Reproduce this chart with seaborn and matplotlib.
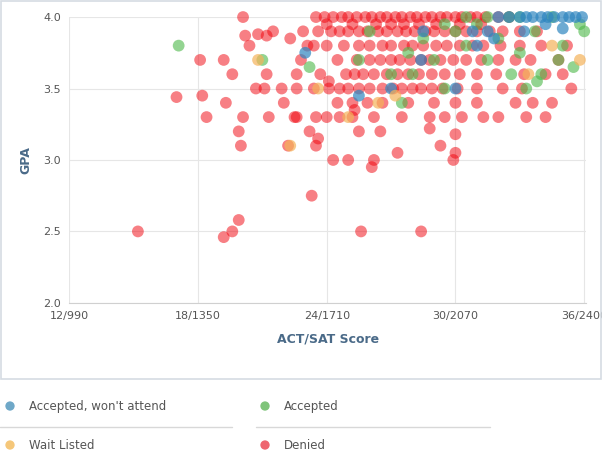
import numpy as np
import pandas as pd
import seaborn as sns
import matplotlib.pyplot as plt
from matplotlib.patches import Rectangle
from matplotlib.lines import Line2D

# Denied: dense rows (GPA -> ACT values)
denied_rows = {
    4.0: [20.1, 23.5, 23.9, 24.3, 24.7, 25.0, 25.4, 25.8, 26.1, 26.5, 26.8, 27.2, 27.5, 27.9, 28.2, 28.6,
          28.9, 29.3, 29.6, 30.0, 30.3, 30.7, 31.0, 31.4, 32.0, 32.5],
    3.95: [24.0, 25.2, 26.3, 27.0, 27.6, 28.3, 29.1, 30.2, 31.2],
    3.9: [23.6, 24.2, 24.6, 25.0, 25.5, 25.9, 26.4, 26.8, 27.3, 27.7, 28.1, 28.6, 29.0, 29.5, 30.0, 30.5,
          31.0, 31.6, 32.2, 33.0, 33.8],
    3.8: [23.4, 24.0, 24.8, 25.5, 26.0, 26.6, 27.0, 27.6, 28.0, 28.5, 29.1, 29.6, 30.2, 30.8, 31.3, 32.1,
          33.0, 34.0, 35.2],
    3.7: [22.8, 24.5, 25.4, 26.0, 26.5, 27.0, 27.4, 27.9, 28.4, 28.8, 29.3, 29.9, 30.5, 31.2, 32.0, 32.8,
          33.5, 34.8],
    3.6: [22.6, 23.7, 24.9, 25.3, 25.7, 26.2, 26.8, 27.3, 27.8, 28.3, 28.9, 29.5, 30.2, 31.0, 31.9, 33.2,
          34.2, 35.0],
    3.5: [21.1, 21.9, 22.6, 23.4, 24.1, 24.6, 25.0, 25.5, 26.0, 26.6, 27.1, 27.5, 28.0, 28.4, 28.9, 29.4,
          30.1, 31.0, 32.2, 33.1, 35.4],
    3.4: [24.5, 25.2, 25.9, 26.6, 27.8, 29.0, 30.0, 31.0, 32.8, 33.6, 34.5],
    3.3: [22.6, 23.5, 24.0, 24.6, 25.2, 26.2, 27.5, 28.8, 29.5, 30.3, 31.3, 32.0, 33.3, 34.2],
}
# Denied: scattered points
denied_act = [15.2, 17.0, 18.1, 18.2, 18.4, 19.2, 19.3, 19.6, 19.2, 19.6, 19.9, 20.2, 20.4, 19.9, 20.0,
              20.1, 20.7, 20.8, 21.2, 21.3, 21.2, 21.5, 22.0, 22.2, 22.3, 22.5, 22.9, 23.1, 23.2, 23.3,
              23.5, 23.6, 24.3, 25.0, 25.5, 26.1, 26.2, 25.6, 28.4, 29.9, 30.0, 30.0, 27.3, 26.5, 28.8,
              29.3, 24.1, 25.3]
denied_gpa = [2.50, 3.44, 3.70, 3.45, 3.30, 3.70, 3.40, 3.60, 2.46, 2.50, 2.58, 3.87, 3.80, 3.20, 3.10,
              3.30, 3.50, 3.88, 3.60, 3.30, 3.87, 3.90, 3.40, 3.10, 3.85, 3.30, 3.90, 3.80, 3.20, 2.75,
              3.10, 3.15, 3.00, 3.00, 3.20, 2.95, 3.00, 2.50, 2.50, 3.00, 3.05, 3.18, 3.05, 3.20, 3.22,
              3.10, 3.55, 3.35]

accepted_act = [17.1, 21.0, 23.2, 25.5, 27.0, 27.5, 28.0, 29.0, 29.5, 30.0, 30.5, 31.0, 31.5, 32.0, 32.5,
                33.0, 33.3, 33.7, 34.0, 34.5, 35.0, 35.5, 35.8, 36.0, 34.8, 33.0, 31.5, 30.5, 29.5, 28.5,
                27.8, 26.0, 33.8, 32.6]
accepted_gpa = [3.80, 3.70, 3.65, 3.70, 3.60, 3.40, 3.60, 3.70, 3.50, 3.90, 3.80, 3.95, 3.70, 3.85, 4.00,
                3.75, 3.50, 3.90, 3.60, 4.00, 3.80, 3.65, 3.95, 3.90, 3.70, 4.00, 4.00, 4.00, 3.95, 3.85,
                3.75, 3.90, 3.55, 3.60]

wont_act = [23.0, 25.5, 27.0, 28.4, 28.5, 30.0, 31.0, 31.5, 32.0, 32.5, 33.0, 33.3, 33.6, 34.0, 34.3,
            34.6, 35.0, 35.3, 35.6, 35.9, 34.2, 33.2, 31.8, 35.0, 30.8]
wont_gpa = [3.75, 3.45, 3.50, 3.70, 3.90, 3.50, 3.80, 3.90, 4.00, 4.00, 4.00, 4.00, 4.00, 4.00, 4.00,
            4.00, 4.00, 4.00, 4.00, 4.00, 3.95, 3.90, 3.85, 3.92, 3.90]

wait_act = [20.8, 22.3, 23.6, 25.0, 26.4, 27.2, 35.8, 34.5, 33.4]
wait_gpa = [3.70, 3.10, 3.50, 3.30, 3.40, 3.45, 3.70, 3.80, 3.60]

tick_vals = [12, 18, 24, 30, 36]
tick_labels = ['12/990', '18/1350', '24/1710', '30/2070', '36/2400']

for g, xs in denied_rows.items():
    denied_act += xs
    denied_gpa += [g] * len(xs)

groups = [
    ("Denied", denied_act, denied_gpa, '#f0000a', 0.5),
    ("Accepted", accepted_act, accepted_gpa, '#4cb848', 0.6),
    ("Accepted, won't attend", wont_act, wont_gpa, '#2f86c0', 0.7),
    ("Wait Listed", wait_act, wait_gpa, '#f5b25a', 0.7),
]
df = pd.concat([pd.DataFrame({'act': a, 'gpa': g, 'status': n}) for n, a, g, _, _ in groups])

sns.set_style('white')
plt.rcParams['font.family'] = ['DejaVu Sans']
fig = plt.figure(figsize=(6.02, 4.61), dpi=100)
fig.patches.append(Rectangle((0.002, 0.178), 0.996, 0.82, transform=fig.transFigure,
                             fill=False, edgecolor='#d5dce3', linewidth=1.2))
ax = fig.add_axes([0.115, 0.343, 0.859, 0.62])

for n, a, g, c, al in groups:
    sns.scatterplot(data=df[df.status == n], x='act', y='gpa', color=c, alpha=al, s=72,
                    edgecolor='none', ax=ax, clip_on=False, legend=False)

ax.set_xlim(12, 36.1)
ax.set_ylim(2.0, 4.0)
ax.set_xticks(tick_vals)
ax.set_xticklabels(tick_labels)
ax.set_yticks([2.0, 2.5, 3.0, 3.5, 4.0])
ax.grid(True, color='#e6e6e6', linewidth=0.8)
for s in ['top', 'right', 'left']:
    ax.spines[s].set_visible(False)
ax.spines['bottom'].set_color('#d0d0d0')
ax.tick_params(length=0, labelsize=8, labelcolor='#555555', pad=6)
ax.set_xlabel('ACT/SAT Score', fontsize=9, fontweight='bold', color='#4a6a88', labelpad=8)
ax.set_ylabel('GPA', fontsize=9, fontweight='bold', color='#4a6a88', labelpad=8)

# legend
lax = fig.add_axes([0, 0, 1, 0.18])
lax.set_xlim(0, 602)
lax.set_ylim(83, 0)
lax.axis('off')
leg = [("Accepted, won't attend", '#6fa8c8', 10, 28), ("Accepted", '#7fc47a', 265, 28),
       ("Wait Listed", '#f5c77a', 10, 67), ("Denied", '#ee6670', 265, 67)]
for name, c, x, y in leg:
    lax.scatter([x], [y], s=45, color=c, edgecolor='none', clip_on=False)
    lax.text(x + 19, y, name, fontsize=8.5, color='#555555', va='center')
lax.add_line(Line2D([0, 232], [49, 49], color='#d8d8d8', linewidth=1))
lax.add_line(Line2D([256, 490], [49, 49], color='#d8d8d8', linewidth=1))

fig.savefig('out.png', dpi=100)
